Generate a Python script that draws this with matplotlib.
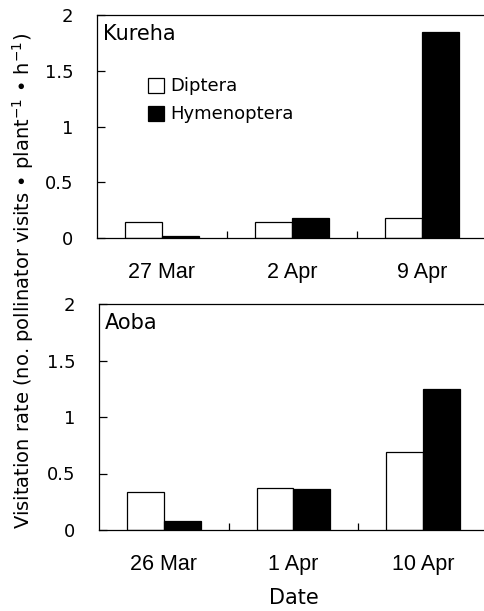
import numpy as np
import matplotlib
matplotlib.use("Agg")
import matplotlib.pyplot as plt
from matplotlib.patches import Patch

# values
kureha_dates = ["27 Mar", "2 Apr", "9 Apr"]
kureha_diptera = [0.146, 0.14, 0.18]
kureha_hymenoptera = [0.015, 0.18, 1.85]

aoba_dates = ["26 Mar", "1 Apr", "10 Apr"]
aoba_diptera = [0.335, 0.37, 0.69]
aoba_hymenoptera = [0.083, 0.365, 1.25]

y_ticks = [0, 0.5, 1, 1.5, 2]
y_ticklabels = ["0", "0.5", "1", "1.5", "2"]

TICK_FONT = ["Liberation Sans", "DejaVu Sans"]
TEXT_FONT = ["DejaVu Sans"]

fig = plt.figure(figsize=(4.85, 6.11), dpi=100)
ax1 = fig.add_axes([97 / 485, (611 - 238) / 611, 390 / 485, 223 / 611])
ax2 = fig.add_axes([99 / 485, (611 - 530) / 611, 389 / 485, 226 / 611])

bar_w = 0.285


def draw_panel(ax, dates, dip, hym, site):
    x = np.arange(len(dates)) + 0.5
    ax.bar(x - bar_w / 2, dip, bar_w, color="white", edgecolor="black", linewidth=0.9)
    ax.bar(x + bar_w / 2, hym, bar_w, color="black", edgecolor="black", linewidth=0.9)
    ax.set_xlim(0, len(dates))
    ax.set_ylim(0, 2)

    ax.set_xticks([1, 2])
    ax.set_xticklabels([])
    ax.set_xticks(x, minor=True)
    ax.set_xticklabels(dates, minor=True, fontsize=15.5, family=TICK_FONT)
    ax.tick_params(axis="x", which="major", direction="in", length=5, width=0.9)
    ax.tick_params(axis="x", which="minor", length=0, pad=17)

    ax.set_yticks(y_ticks)
    ax.set_yticklabels(y_ticklabels, fontsize=13, family=TEXT_FONT)
    ax.tick_params(axis="y", direction="in", length=6, width=0.9, pad=17)

    for s in ["left", "top", "bottom"]:
        ax.spines[s].set_linewidth(0.9)
    ax.spines["right"].set_visible(False)

    ax.text(0.015, 0.96, site, transform=ax.transAxes, ha="left", va="top",
            fontsize=15, family=TEXT_FONT)


draw_panel(ax1, kureha_dates, kureha_diptera, kureha_hymenoptera, "Kureha")
draw_panel(ax2, aoba_dates, aoba_diptera, aoba_hymenoptera, "Aoba")

handles = [Patch(facecolor="white", edgecolor="black", linewidth=0.9, label="Diptera"),
           Patch(facecolor="black", edgecolor="black", linewidth=0.9, label="Hymenoptera")]
ax1.legend(handles=handles, loc="upper left", bbox_to_anchor=(0.13, 0.72), frameon=False,
           handlelength=0.9, handleheight=0.9, handletextpad=0.35, labelspacing=0.55,
           borderaxespad=0, borderpad=0, prop={"family": TEXT_FONT, "size": 13})

ax2.set_xlabel("Date", fontsize=15, family=TEXT_FONT, labelpad=10)

fig.text(0.047, 0.54, r"Visitation rate (no. pollinator visits • plant$^{-1}$ • h$^{-1}$)",
         rotation=90, ha="center", va="center", fontsize=14, family=TEXT_FONT)

fig.savefig("out.png", dpi=100)
